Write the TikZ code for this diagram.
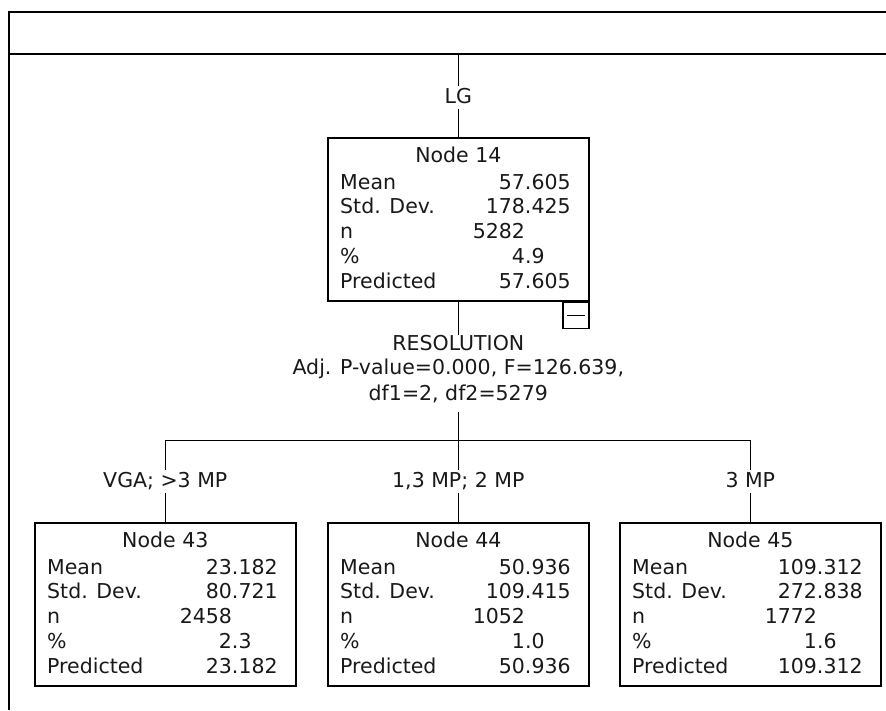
\documentclass[tikz,border=0pt]{standalone}
\usepackage{fontspec}
\setmainfont{DejaVu Sans}
\usetikzlibrary{calc, positioning}

\tikzset{
  nodebox/.style={draw, line width=1.6pt, minimum width=261pt, minimum height=163pt, anchor=north west, inner sep=0pt},
  branch/.style={anchor=base, inner sep=0pt, text height=15pt, text depth=4pt, inner ysep=1.5pt},
  link/.style={line width=1.5pt},
  frame/.style={line width=1.8pt},
}

% numbers lined up on the decimal point
\def\decsplit#1.#2.#3\relax{\makebox[0pt][r]{#1}\makebox[0pt][l]{\if\relax\detokenize{#2}\relax\else.#2\fi}}
\newcommand{\decalign}[1]{\expandafter\decsplit#1..\relax}

% one tree node: name, left, top, number, mean, sd, n, percent, predicted
\newcommand{\statnode}[9]{%
  \node[nodebox] (#1) at (#2,#3) {};
  \node[anchor=base, inner sep=0pt] (#1title) at ($(#1.north)+(0,25)$) {Node #4};
  \foreach \lab/\val [count=\row from 0] in {Mean/#5, Std. Dev./#6, n/#7, \%/#8, Predicted/#9} {
    \node[anchor=base west, inner sep=0pt] at ($(#1.north west)+(13,{52+24.75*\row})$) {\lab};
    \node[anchor=base, inner sep=0pt] at ($(#1.north west)+(198,{52+24.75*\row})$) {\decalign{\val}};
  }
}

\begin{document}
\begin{tikzpicture}[x=1pt, y=-1pt, font=\fontsize{20.5}{24}\selectfont, text=black!90]
  \useasboundingbox (0,0) rectangle (886,710);
  % frame of the tree view
  \draw[frame] (886,12) -- (9,12) -- (9,710);
  \draw[frame] (9,54) -- (886,54);
  % root node
  \statnode{n14}{327}{137}{14}{57.605}{178.425}{5282}{4.9}{57.605}
  \coordinate (top) at (n14.north |- 0,54);
  \node[branch] (lg) at ($(n14.north)+(0,-34)$) {LG};
  \draw[link] (top) -- (lg.north);
  \draw[link] (lg.south) -- (n14.north);
  % collapse button
  \node[draw, line width=1.3pt, minimum width=26pt, minimum height=26pt, inner sep=0pt, anchor=north east] (fold) at (n14.south east) {};
  \draw[line width=1.3pt] ([xshift=5pt]fold.west) -- ([xshift=-5pt]fold.east);
  % split statistics
  \node[align=center, inner sep=0pt, anchor=north] (res) at ($(n14.south)+(0,33)$)
    {RESOLUTION\\Adj. P-value=0.000, F=126.639,\\[2pt]df1=2, df2=5279};
  \coordinate (split) at ($(n14.south)+(0,139)$);
  \draw[link] (n14.south) -- (res.north);
  \draw[link] ([yshift=-9pt]res.south) -- (split);
  % child nodes
  \statnode{n43}{34}{522}{43}{23.182}{80.721}{2458}{2.3}{23.182}
  \statnode{n44}{327}{522}{44}{50.936}{109.415}{1052}{1.0}{50.936}
  \statnode{n45}{619}{522}{45}{109.312}{272.838}{1772}{1.6}{109.312}
  \node[branch] (l43) at ($(n43.north)+(0,-35)$) {VGA; >3 MP};
  \node[branch] (l44) at ($(n44.north)+(0,-35)$) {1,3 MP; 2 MP};
  \node[branch] (l45) at ($(n45.north)+(0,-35)$) {3 MP};
  \draw[link] (split) -| (l43.north);
  \draw[link] (split) -- (l44.north);
  \draw[link] (split) -| (l45.north);
  \draw[link] (l43.south) -- (n43.north);
  \draw[link] (l44.south) -- (n44.north);
  \draw[link] (l45.south) -- (n45.north);
\end{tikzpicture}
\end{document}
